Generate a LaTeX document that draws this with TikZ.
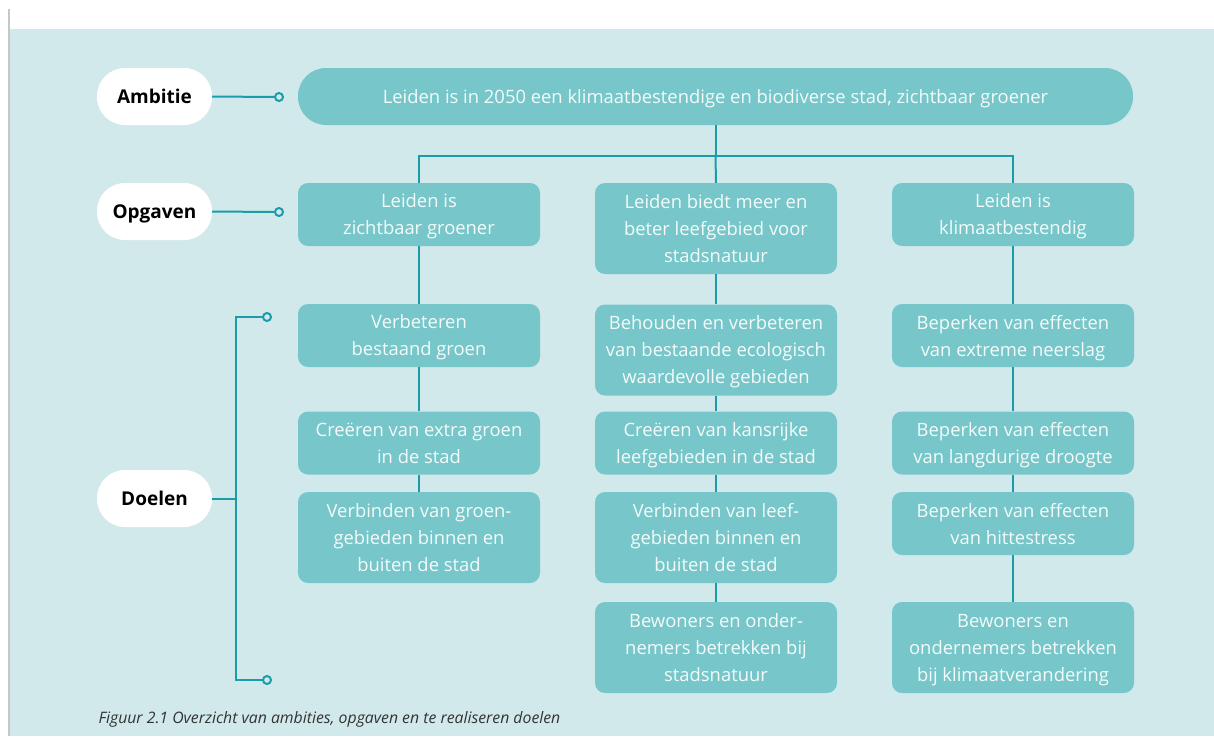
\documentclass[tikz,border=0pt]{standalone}
\usepackage{fontspec}
\setmainfont{Open Sans}
\usepackage{xcolor}
\usepackage{tikz}
\definecolor{achtergrond}{HTML}{D2E9EC}
\definecolor{blokkleur}{HTML}{76C6CA}
\definecolor{bloktekst}{HTML}{F4FBFB}
\definecolor{lijnkleur}{HTML}{1A9DAA}
\definecolor{onderschrift}{HTML}{333333}
\tikzstyle{task} = [
    rectangle,
    rounded corners=10pt,
    fill=blokkleur,
    text=bloktekst,
    align=center,
    inner sep=0pt,
    text depth=0pt,
    minimum width=242pt,
    minimum height=63pt,
    font=\fontsize{18.4}{27}\selectfont
    ]
\tikzstyle{level} = [
    rectangle,
    rounded corners=28pt,
    fill=white,
    inner sep=0pt,
    text depth=0pt,
    minimum width=115pt,
    minimum height=57pt,
    font=\fontsize{19}{22}\selectfont\bfseries
    ]
\tikzstyle{link} = [draw=lijnkleur, line width=2pt]
\tikzstyle{dot} = [
    circle,
    draw=lijnkleur,
    line width=2pt,
    fill=achtergrond,
    inner sep=0pt,
    minimum size=8pt
    ]

\begin{document}
\begin{tikzpicture}[x=1pt, y=-1pt]
        % Page
        \useasboundingbox (0,0) rectangle (1214,736);
        \fill[white] (0,0) rectangle (1214,736);
        \fill[achtergrond] (10,29) rectangle (1214,736);
        \draw[black!22, line width=2pt] (9,9) -- (9,736);

        % Levels
        \node (ambitie) [level] at (154.5,96.5) {Ambitie};
        \node (opgaven) [level] at (154.5,211.5) {Opgaven};
        \node (doelen) [level] at (154.5,498.5) {Doelen};

        \node (ambitiedot) [dot] at (279,97) {};
        \node (opgavendot) [dot] at (279,212) {};
        \node (doelentop) [dot] at (267,317) {};
        \node (doelenbot) [dot] at (267,680) {};

        % Ambition
        \node (stad) [task, rounded corners=28pt, minimum width=835pt, minimum height=57pt] at (715.5,96.5)
            {Leiden is in 2050 een klimaatbestendige en biodiverse stad, zichtbaar groener};

        % Tasks
        \node (groener) [task] at (419,214.5) {Leiden is\\zichtbaar groener};
        \node (natuur) [task, minimum height=91pt] at (716,228.5) {Leiden biedt meer en\\beter leefgebied voor\\stadsnatuur};
        \node (klimaat) [task] at (1013,214.5) {Leiden is\\klimaatbestendig};

        % Goals
        \node (g1) [task] at (419,335.5) {Verbeteren\\bestaand groen};
        \node (g2) [task] at (419,443) {Creëren van extra groen\\in de stad};
        \node (g3) [task, minimum height=91pt] at (419,537.5) {Verbinden van groen-\\gebieden binnen en\\buiten de stad};

        \node (n1) [task, minimum height=91pt] at (716,350) {Behouden en verbeteren\\van bestaande ecologisch\\waardevolle gebieden};
        \node (n2) [task] at (716,443) {Creëren van kansrijke\\leefgebieden in de stad};
        \node (n3) [task, minimum height=91pt] at (716,537.5) {Verbinden van leef-\\gebieden binnen en\\buiten de stad};
        \node (n4) [task, minimum height=91pt] at (716,647.5) {Bewoners en onder-\\nemers betrekken bij\\stadsnatuur};

        \node (k1) [task] at (1013,335.5) {Beperken van effecten\\van extreme neerslag};
        \node (k2) [task] at (1013,443) {Beperken van effecten\\van langdurige droogte};
        \node (k3) [task] at (1013,523.5) {Beperken van effecten\\van hittestress};
        \node (k4) [task, minimum height=91pt] at (1013,647.5) {Bewoners en\\ondernemers betrekken\\bij klimaatverandering};

        % Lines
        \draw[link] (ambitie.east) -- (ambitiedot.west);
        \draw[link] (opgaven.east) -- (opgavendot.west);
        \draw[link] (doelen.east) -- ++(25,0);
        \draw[link] (doelentop.west) -- ++(-26,0) |- (doelenbot.west);

        \draw[link] (stad.south) -- ++(0,31) coordinate (split);
        \draw[link] (split) -| (groener.north);
        \draw[link] (split) -| (klimaat.north);
        \draw[link] (split) -- (natuur.north);

        \draw[link] (groener) -- (g1) -- (g2) -- (g3);
        \draw[link] (natuur) -- (n1) -- (n2) -- (n3) -- (n4);
        \draw[link] (klimaat) -- (k1) -- (k2) -- (k3) -- (k4);

        % Caption
        \node (figuur) [anchor=west, text=onderschrift, font=\fontsize{15.8}{18}\selectfont\itshape] at (95,719)
            {Figuur 2.1 Overzicht van ambities, opgaven en te realiseren doelen};

    \end{tikzpicture}
\end{document}
